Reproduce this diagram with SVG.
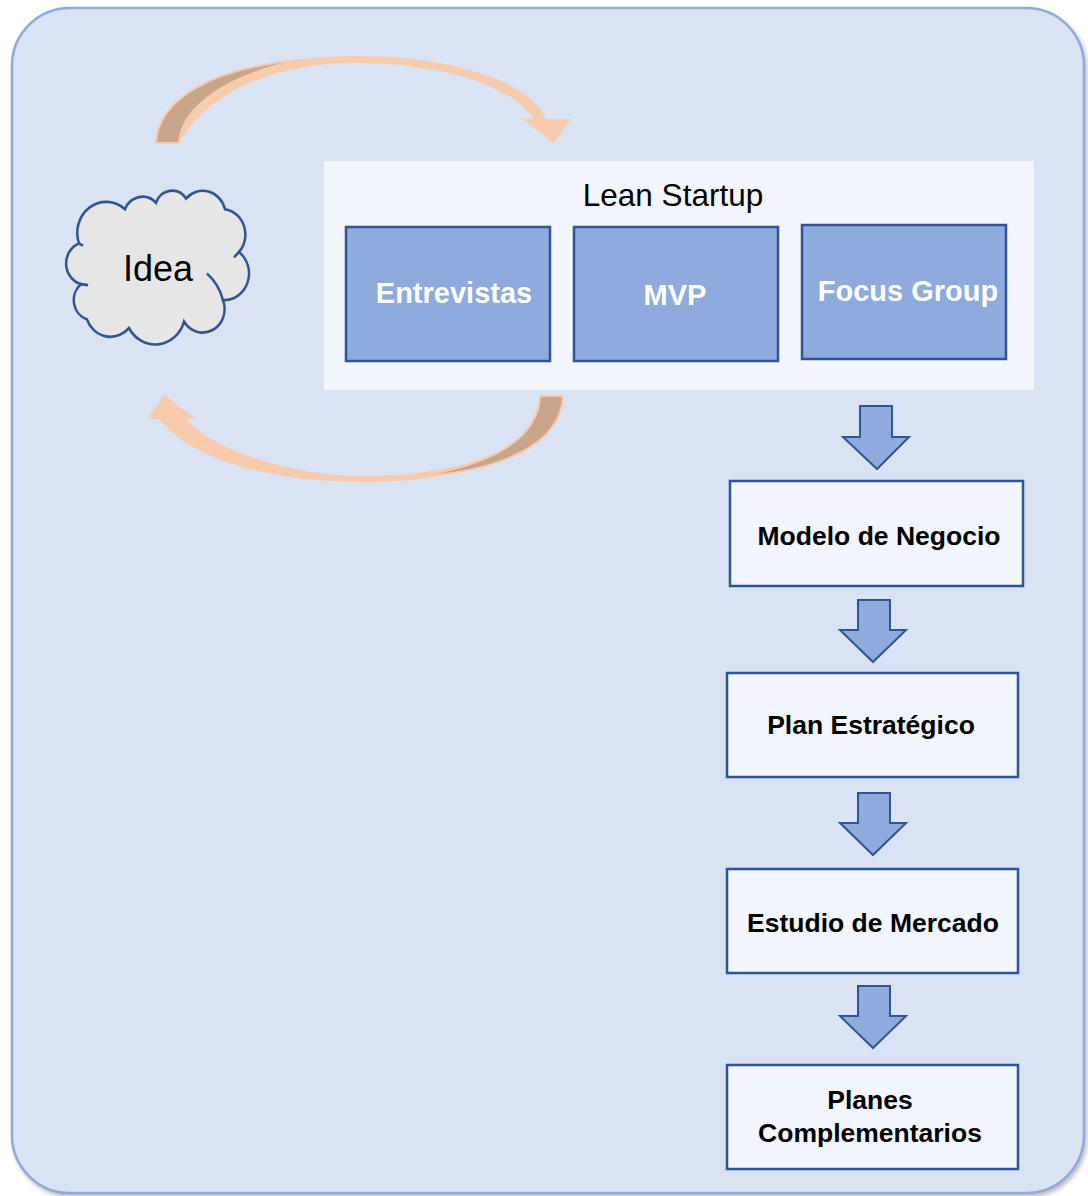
<svg xmlns="http://www.w3.org/2000/svg" width="1088" height="1196" viewBox="0 0 1088 1196">
<defs>
<style>
.t{font-family:"Liberation Sans",Arial,sans-serif}
.blue{fill:#8faadc;stroke:#2f5597;stroke-width:2.5}
.step{fill:#f2f5fb;stroke:#2f5597;stroke-width:2.5}
.wl{fill:#ffffff;font-weight:bold;font-size:29px;text-anchor:middle}
.bl{fill:#000000;font-weight:bold;font-size:26.5px;text-anchor:middle}
.darr{fill:#8faadc;stroke:#2f5597;stroke-width:2}
.peach{fill:#f8cbad}
.dark{fill:#c9a58c;stroke:#f8cbad;stroke-width:2}
</style>
<filter id="sh" x="-5%" y="-5%" width="110%" height="110%">
<feDropShadow dx="2" dy="3" stdDeviation="2" flood-color="#7f7f7f" flood-opacity="0.5"/>
</filter>
</defs>
<g id="background">
<rect x="12" y="8" width="1072" height="1185" rx="58" ry="58" fill="#dae3f3" stroke="#8eaadb" stroke-width="2.5" filter="url(#sh)"/>
</g>
<g id="lean-startup">
<rect x="324" y="161" width="710" height="229" fill="#f2f5fb"/>
<text class="t" x="673" y="206" font-size="31.5" text-anchor="middle" fill="#000">Lean Startup</text>
</g>
<g id="entrevistas">
<rect class="blue" x="346" y="227" width="204" height="134"/>
<text class="t wl" x="454" y="303">Entrevistas</text>
</g>
<g id="mvp">
<rect class="blue" x="574" y="227" width="204" height="134"/>
<text class="t wl" x="675" y="305">MVP</text>
</g>
<g id="focus-group">
<rect class="blue" x="802" y="225" width="204" height="134"/>
<text class="t wl" x="908" y="301">Focus Group</text>
</g>
<g id="idea">
<g transform="translate(-3,-18.7) scale(1,1.07)">
<path d="M82,245 A29,29 0 0 1 128,213 A19,19 0 0 1 159,207 A17,17 0 0 1 189,203 A23,23 0 0 1 228,213 A24,24 0 0 1 242,253 A25,25 0 0 1 226,298 A22,22 0 0 1 187,318 A30,30 0 0 1 132,324 A25,25 0 0 1 90,316 A19,19 0 0 1 84,283 A20,20 0 0 1 82,245 Z" fill="#e7e6e6" stroke="#2f5597" stroke-width="2.5"/>
<path d="M210,273 Q222,283 226,298 M242,253 L237,258 M82,245 L86,247 M84,283 L91,284" fill="none" stroke="#2f5597" stroke-width="2.5"/>
</g>
<text class="t" x="158" y="281" font-size="36" text-anchor="middle" fill="#000">Idea</text>
</g>
<g id="modelo-negocio">
<rect class="step" x="730" y="481" width="293" height="105"/>
<text class="t bl" x="879" y="545">Modelo de Negocio</text>
</g>
<g id="plan-estrategico">
<rect class="step" x="727" y="673" width="291" height="104"/>
<text class="t bl" x="871" y="734">Plan Estratégico</text>
</g>
<g id="estudio-mercado">
<rect class="step" x="727" y="869" width="291" height="104"/>
<text class="t bl" x="873" y="932">Estudio de Mercado</text>
</g>
<g id="planes-complementarios">
<rect class="step" x="727" y="1065" width="291" height="104"/>
<text class="t bl" x="870" y="1109">Planes</text>
<text class="t bl" x="870" y="1142">Complementarios</text>
</g>
<g id="connectors">
<path class="peach" d="M156,143 C158,92 240,57 356,56 C450,56 528,80 546,119 L571,119 L554,143 L522,119 L534,119 C510,84 440,63 356,63 C280,63 210,88 179,143 Z"/>
<path class="dark" d="M156,143 C158,100 210,68 300,60 C230,74 182,105 179,143 Z"/>
<path class="peach" d="M563,395 C560,450 470,482 363,482 C270,482 192,460 159,419 L147,419 L164,395 L196,419 L185,419 C220,455 300,476 363,476 C460,476 540,448 563,395 Z"/>
<path class="dark" d="M563,396 L540,396 C538,440 490,466 412,477 C500,472 561,445 563,396 Z"/>
<path class="darr" d="M860,406 L892,406 L892,437 L909,437 L877,469 L843,437 L860,437 Z"/>
<path class="darr" d="M858,600 L890,600 L890,630 L906,630 L873,662 L840,630 L858,630 Z"/>
<path class="darr" d="M858,793 L890,793 L890,823 L906,823 L873,855 L840,823 L858,823 Z"/>
<path class="darr" d="M858,986 L890,986 L890,1016 L906,1016 L873,1048 L840,1016 L858,1016 Z"/>
</g>
</svg>
